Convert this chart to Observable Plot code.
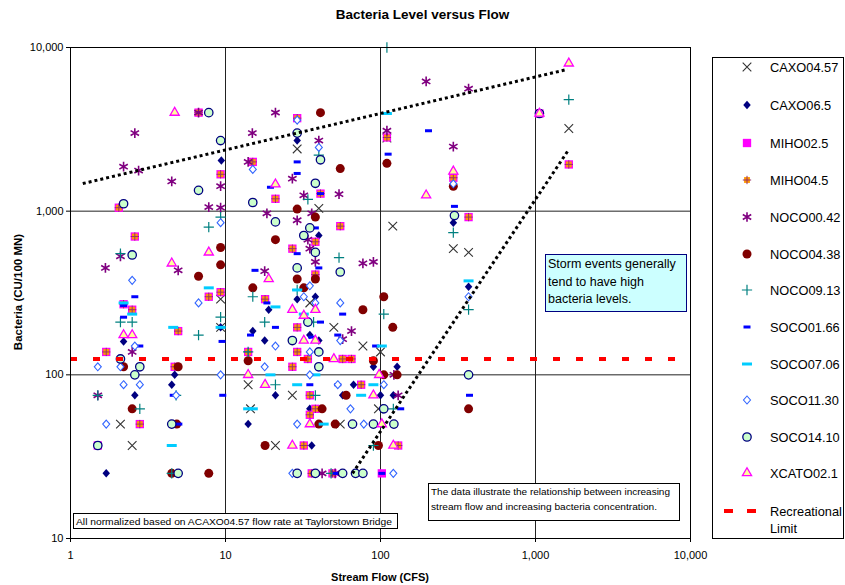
<!DOCTYPE html>
<html><head><meta charset="utf-8">
<script src="https://cdn.jsdelivr.net/npm/d3@7"></script>
<script src="https://cdn.jsdelivr.net/npm/@observablehq/plot@0.6"></script>
<style>
body{margin:0;background:#fff;font-family:"Liberation Sans",Arial,sans-serif}
#chart{width:845px;height:585px}
</style>
</head><body><div id="chart"></div>
<script>
// ---------- data: [stream flow (CFS), bacteria (CU/100 MN)] ----------
const seriesNames = ["CAXO04.57","CAXO06.5","MIHO02.5","MIHO04.5","NOCO00.42","NOCO04.38","NOCO09.13","SOCO01.66","SOCO07.06","SOCO11.30","SOCO14.10","XCATO02.1"];

const CAXO0457 = [[29,2400],[1640,3200],[295,590],[370,560],[40,1040],[9.3,290],[9.3,195],[35,275],[50,195],[77,150],[100,138],[14,87],[14.5,62],[2.1,50],[2.5,37],[27,75],[55,50],[21,37],[97,62],[120,810],[110,2800]];
const CAXO065 = [[9.4,2040],[29,2700],[40,710],[295,850],[370,345],[9.3,195],[2.2,160],[4.7,100],[4.5,87],[2.6,75],[1.7,25],[14,50],[15,185],[29,290],[38,300],[19,250],[17.9,162],[35,175],[40,162],[90,112],[128,112],[21,75],[57,75],[100,75],[121,75],[35,62],[36,37],[67,87]];
const MIHO025 = [[6.7,4000],[9.3,1680],[15,2000],[29,3700],[110,2820],[1060,3950],[1640,1930],[295,1600],[370,920],[21,1190],[41,1280],[2.05,1050],[2.6,700],[7.8,300],[9.3,320],[2.2,270],[2.5,250],[4.95,185],[1.7,138],[4.7,112],[14,138],[55,810],[38,650],[27,590],[38,410],[18,290],[29,195],[29,138],[27,112],[34,125],[57,125],[65,125],[75,87],[35,75],[38,62],[35,57],[2.8,50],[32,37],[130,37],[36,25],[49,25],[102,25],[1.5,37]];
const MIHO045 = [[6.7,4000],[9.3,1680],[15,2000],[29,3700],[110,2820],[1060,3950],[1640,1930],[295,1600],[370,920],[21,1190],[41,1280],[2.05,1050],[2.6,700],[7.8,300],[9.3,320],[2.2,270],[2.5,250],[4.95,185],[1.7,138],[4.7,112],[14,138],[55,810],[38,650],[27,590],[38,410],[18,290],[29,195],[29,138],[27,112],[34,125],[57,125],[65,125],[75,87],[35,75],[38,62],[35,57],[2.8,50],[32,37],[130,37],[36,25],[49,25]];
const NOCO0042 = [[2.6,3000],[2.2,1870],[2.75,1770],[4.5,1520],[9.3,1420],[7.8,1060],[9.3,1050],[14.9,3000],[14,2000],[6.7,4000],[21,4000],[40,2700],[110,3100],[197,6200],[370,5600],[295,2480],[27,1580],[32,1250],[54,1270],[2.1,530],[4.95,435],[1.68,450],[2.5,138],[18.5,970],[29,880],[36,970],[34,670],[35,590],[38,490],[77,480],[90,490],[17.9,430],[57,165],[65,185],[122,100],[130,75],[1.5,75],[42,25],[51,25]];
const NOCO0438 = [[41,4000],[110,1960],[55,1820],[29,1030],[295,1420],[9.3,600],[9.3,470],[6.7,400],[2.2,112],[4.95,112],[15,340],[14,122],[38,920],[21,670],[29,385],[38,385],[32,340],[105,300],[77,250],[120,195],[90,122],[105,100],[128,100],[2.5,62],[4.85,50],[4.5,25],[7.8,25],[42,62],[60,75],[40,50],[51,50],[18,37],[97,37],[370,62]];
const NOCO0913 = [[110,10000],[1640,4800],[40,2200],[34,1180],[9.3,920],[7.8,800],[2.1,550],[2.1,210],[2.5,210],[9.3,225],[6.7,175],[15,300],[14,138],[54,520],[17.9,210],[37,210],[29,330],[105,235],[295,740],[370,250],[21,87],[38,75],[121,62],[90,37],[48,25],[2.8,62],[4.8,75],[1.5,75],[4.5,25]];
const SOCO0166 = [[204,3100],[112,2230],[29,2000],[29,1700],[19.5,1400],[41,1280],[300,1070],[2.6,300],[2.2,265],[2.2,225],[2.8,150],[9.5,160],[15.5,435],[14.5,175],[38,790],[29,550],[40,450],[18.5,275],[57,235],[41,210],[21,195],[53,175],[36,170],[93,150],[35,87],[53,87],[135,62],[5,50],[9.6,75],[52,25],[102,25],[375,75],[4.6,75]];
const SOCO0706 = [[110,3950],[7.8,340],[2.2,275],[2.5,235],[4.6,195],[9.3,195],[29,330],[32,235],[21,260],[102,150],[38,100],[19.5,100],[14,62],[4.5,37],[29,87],[90,87],[75,75],[43,50],[15,62],[370,375]];
const SOCO1130 = [[29,3600],[40,2450],[15,1800],[295,1470],[370,300],[9.3,850],[2.5,378],[6.7,275],[2.6,150],[1.5,112],[2.1,112],[9.3,100],[35,350],[32,300],[38,275],[55,275],[55,162],[21,150],[35,138],[17.9,112],[35,100],[2.2,87],[2.8,87],[4.8,75],[1.7,50],[53,87],[105,87],[64,62],[29,50],[78,50],[27,25],[121,25]];
const SOCO1410 = [[7.8,4000],[9.3,2700],[6.7,1340],[2.2,1110],[15,1130],[29,3000],[41,2060],[38,1480],[1060,3950],[300,940],[2.5,540],[2.1,125],[2.8,112],[2.6,100],[21,860],[35,790],[32,710],[38,560],[29,450],[55,425],[34,210],[27,162],[40,138],[40,112],[4.5,50],[1.5,37],[4.95,25],[105,62],[66,50],[90,50],[122,50],[29,25],[38,25],[57,25],[69,25],[77,25],[370,100]];
const XCATO021 = [[4.7,4000],[1640,8000],[1060,3950],[295,1750],[21,1460],[197,1250],[7.8,560],[4.5,480],[2.2,175],[2.5,175],[14,100],[19,385],[27,250],[38,250],[32,230],[32,162],[38,162],[50,125],[98,100],[18,87],[90,75],[35,50],[102,50],[27,37],[121,37]];

const seriesData = [CAXO0457,CAXO065,MIHO025,MIHO045,NOCO0042,NOCO0438,NOCO0913,SOCO0166,SOCO0706,SOCO1130,SOCO1410,XCATO021];

const recreationalLimit = 125;
const upperTrend = [[1.2,1475],[1610,7350]];
const stormTrend = [[66,25],[1640,2380]];

const xTicks = [1,10,100,1000,10000];
const yTicks = [10,100,1000,10000];
const xGrid = [10,100,1000];
const yGrid = [100,1000];

const titleText = "Bacteria Level versus Flow";
const xLabel = "Stream Flow (CFS)";
const yLabel = "Bacteria (CU/100 MN)";
const stormNote = ["Storm events generally","tend to have high","bacteria levels."];
const dataNote = ["The data illustrate the relationship between increasing","stream flow and increasing bacteria concentration."];
const normNote = "All normalized based on ACAXO04.57 flow rate at Taylorstown Bridge";
const limitLabel = ["Recreational","Limit"];

// ---------- styles ----------
const rectSym = (w,h) => ({draw(ctx){ctx.rect(-w/2,-h/2,w,h);}});
const diamondSym = (w,h) => ({draw(ctx){ctx.moveTo(0,-h/2);ctx.lineTo(w/2,0);ctx.lineTo(0,h/2);ctx.lineTo(-w/2,0);ctx.closePath();}});
const shortDash = rectSym(7,3);
const longDash = rectSym(10,3);
const navyDiamond = diamondSym(7.5,8.5);
const openDiamond = diamondSym(7,8);
const styles = [
  {symbol:"times", r:4, fill:"none", stroke:"#333333", sw:1.1},
  {symbol:navyDiamond, r:3.6, fill:"#000080", stroke:"none", sw:0},
  {symbol:"square", r:4.7, fill:"#ff00ff", stroke:"none", sw:0},
  {symbol:"square", r:3.3, fill:"#ff9900", stroke:"none", sw:0, extra:{symbol:"plus", r:2.8, fill:"none", stroke:"#993366", sw:1}},
  {symbol:"asterisk", r:4.6, fill:"none", stroke:"#800080", sw:1.6},
  {symbol:"circle", r:4.5, fill:"#800000", stroke:"none", sw:0},
  {symbol:"plus", r:3.4, fill:"none", stroke:"#008080", sw:1.2},
  {symbol:shortDash, r:3, fill:"#0000ff", stroke:"none", sw:0},
  {symbol:longDash, r:3, fill:"#00ccff", stroke:"none", sw:0},
  {symbol:openDiamond, r:3.6, fill:"#ffffff", stroke:"#3366ff", sw:1.1},
  {symbol:"circle", r:4.2, fill:"#ccffcc", stroke:"#000080", sw:1.3},
  {symbol:"triangle", r:3.4, fill:"#ffff99", stroke:"#ff00ff", sw:1.3}
];

const rows = seriesData.flatMap((arr,i) => arr.map(([flow,bact]) => ({series:seriesNames[i], flow, bact})));

const dotMarks = [];
styles.forEach((s,i) => {
  const d = rows.filter(r => r.series === seriesNames[i]);
  dotMarks.push(Plot.dot(d, {x:"flow", y:"bact", symbol:s.symbol, r:s.r, fill:s.fill, stroke:s.stroke, strokeWidth:s.sw}));
  if (s.extra) dotMarks.push(Plot.dot(d, {x:"flow", y:"bact", symbol:s.extra.symbol, r:s.extra.r, fill:s.extra.fill, stroke:s.extra.stroke, strokeWidth:s.extra.sw}));
});

const chart = Plot.plot({
  width:845, height:585,
  marginLeft:70, marginRight:155, marginTop:47, marginBottom:47,
  style:{fontFamily:"'Liberation Sans', Arial, sans-serif", fontSize:"11px", background:"#fff", color:"#000", overflow:"visible"},
  x:{type:"log", domain:[1,10000]},
  y:{type:"log", domain:[10,10000]},
  marks:[
    Plot.ruleX(xGrid, {stroke:"#222", strokeWidth:1}),
    Plot.ruleY(yGrid, {stroke:"#222", strokeWidth:1}),
    ...dotMarks,
    Plot.line(upperTrend, {x:d=>d[0], y:d=>d[1], stroke:"#000", strokeWidth:3, strokeDasharray:"3,3", strokeLinecap:"butt"}),
    Plot.line(stormTrend, {x:d=>d[0], y:d=>d[1], stroke:"#000", strokeWidth:3, strokeDasharray:"3,3", strokeLinecap:"butt"}),
    Plot.ruleY([recreationalLimit], {stroke:"#ff0000", strokeWidth:4, strokeDasharray:"7,16"}),
    Plot.frame({stroke:"#000", strokeWidth:1}),
    Plot.axisX({ticks:xTicks, tickFormat:d3.format(","), tickSize:4, tickPadding:9, label:null, fontSize:11}),
    Plot.axisY({ticks:yTicks, tickFormat:d3.format(","), tickSize:4, tickPadding:3, label:null, fontSize:11})
  ]
});
document.getElementById("chart").appendChild(chart);

// ---------- titles, notes, legend ----------
const svg = d3.select(chart);
const ff = "'Liberation Sans', Arial, sans-serif";
const txt = (g, x, y, t, size, anchor="start", weight="normal") => g.append("text")
  .attr("x",x).attr("y",y).attr("text-anchor",anchor).attr("dominant-baseline","central")
  .attr("font-family",ff).attr("font-size",size).attr("font-weight",weight).attr("fill","#000").text(t);

txt(svg, 422.5, 14, titleText, 13.5, "middle", "bold");
txt(svg, 380, 577, xLabel, 11, "middle", "bold");
svg.append("text").attr("transform","translate(18,292) rotate(-90)").attr("text-anchor","middle").attr("dominant-baseline","central")
  .attr("font-family",ff).attr("font-weight","bold").attr("font-size",11.5).attr("fill","#000").text(yLabel);

// storm note
const sg = svg.append("g");
sg.append("rect").attr("x",545.5).attr("y",254.5).attr("width",141).attr("height",57).attr("fill","#ccffff").attr("stroke","#000080").attr("stroke-width",1);
stormNote.forEach((t,i) => txt(sg, 548, 264 + i*17.5, t, 12.5));

// data note
const dg = svg.append("g");
dg.append("rect").attr("x",428.5).attr("y",483.5).attr("width",251).attr("height",37).attr("fill","#fff").attr("stroke","#000").attr("stroke-width",1);
txt(dg, 431, 491, dataNote[0], 9.5).attr("textLength",239).attr("lengthAdjust","spacingAndGlyphs");
txt(dg, 431, 506, dataNote[1], 9.5).attr("textLength",226).attr("lengthAdjust","spacingAndGlyphs");

// normalization note
const ng = svg.append("g");
ng.append("rect").attr("x",73.5).attr("y",513.5).attr("width",324).attr("height",15).attr("fill","#fff").attr("stroke","#000").attr("stroke-width",1);
txt(ng, 76, 521, normNote, 9.5).attr("textLength",316).attr("lengthAdjust","spacingAndGlyphs");

// legend
const symMap = {times:d3.symbolTimes, diamond:d3.symbolDiamond, square:d3.symbolSquare, asterisk:d3.symbolAsterisk,
  circle:d3.symbolCircle, plus:d3.symbolPlus, diamond2:d3.symbolDiamond2, triangle:d3.symbolTriangle};
const getSym = s => (typeof s === "string" ? symMap[s] : s);
const legendY = [67,105,143,180,217,254,290,327,364,400,437,473];
const lg = svg.append("g");
lg.append("rect").attr("x",712.5).attr("y",57.5).attr("width",131).attr("height",481).attr("fill","#fff").attr("stroke","#000").attr("stroke-width",1);
const drawSym = (s, x, y) => lg.append("path").attr("transform",`translate(${x},${y})`)
  .attr("d", d3.symbol(getSym(s.symbol), Math.PI*s.r*s.r)())
  .attr("fill", s.fill).attr("stroke", s.stroke).attr("stroke-width", s.sw);
styles.forEach((s,i) => {
  drawSym(s, 747, legendY[i]);
  if (s.extra) drawSym(s.extra, 747, legendY[i]);
  txt(lg, 770, legendY[i], seriesNames[i], 12.8);
});
lg.append("line").attr("x1",724).attr("x2",757).attr("y1",511).attr("y2",511).attr("stroke","#ff0000").attr("stroke-width",4).attr("stroke-dasharray","9,14");
limitLabel.forEach((t,i) => txt(lg, 770, 511 + i*17, t, 12.8));
</script>
</body></html>
